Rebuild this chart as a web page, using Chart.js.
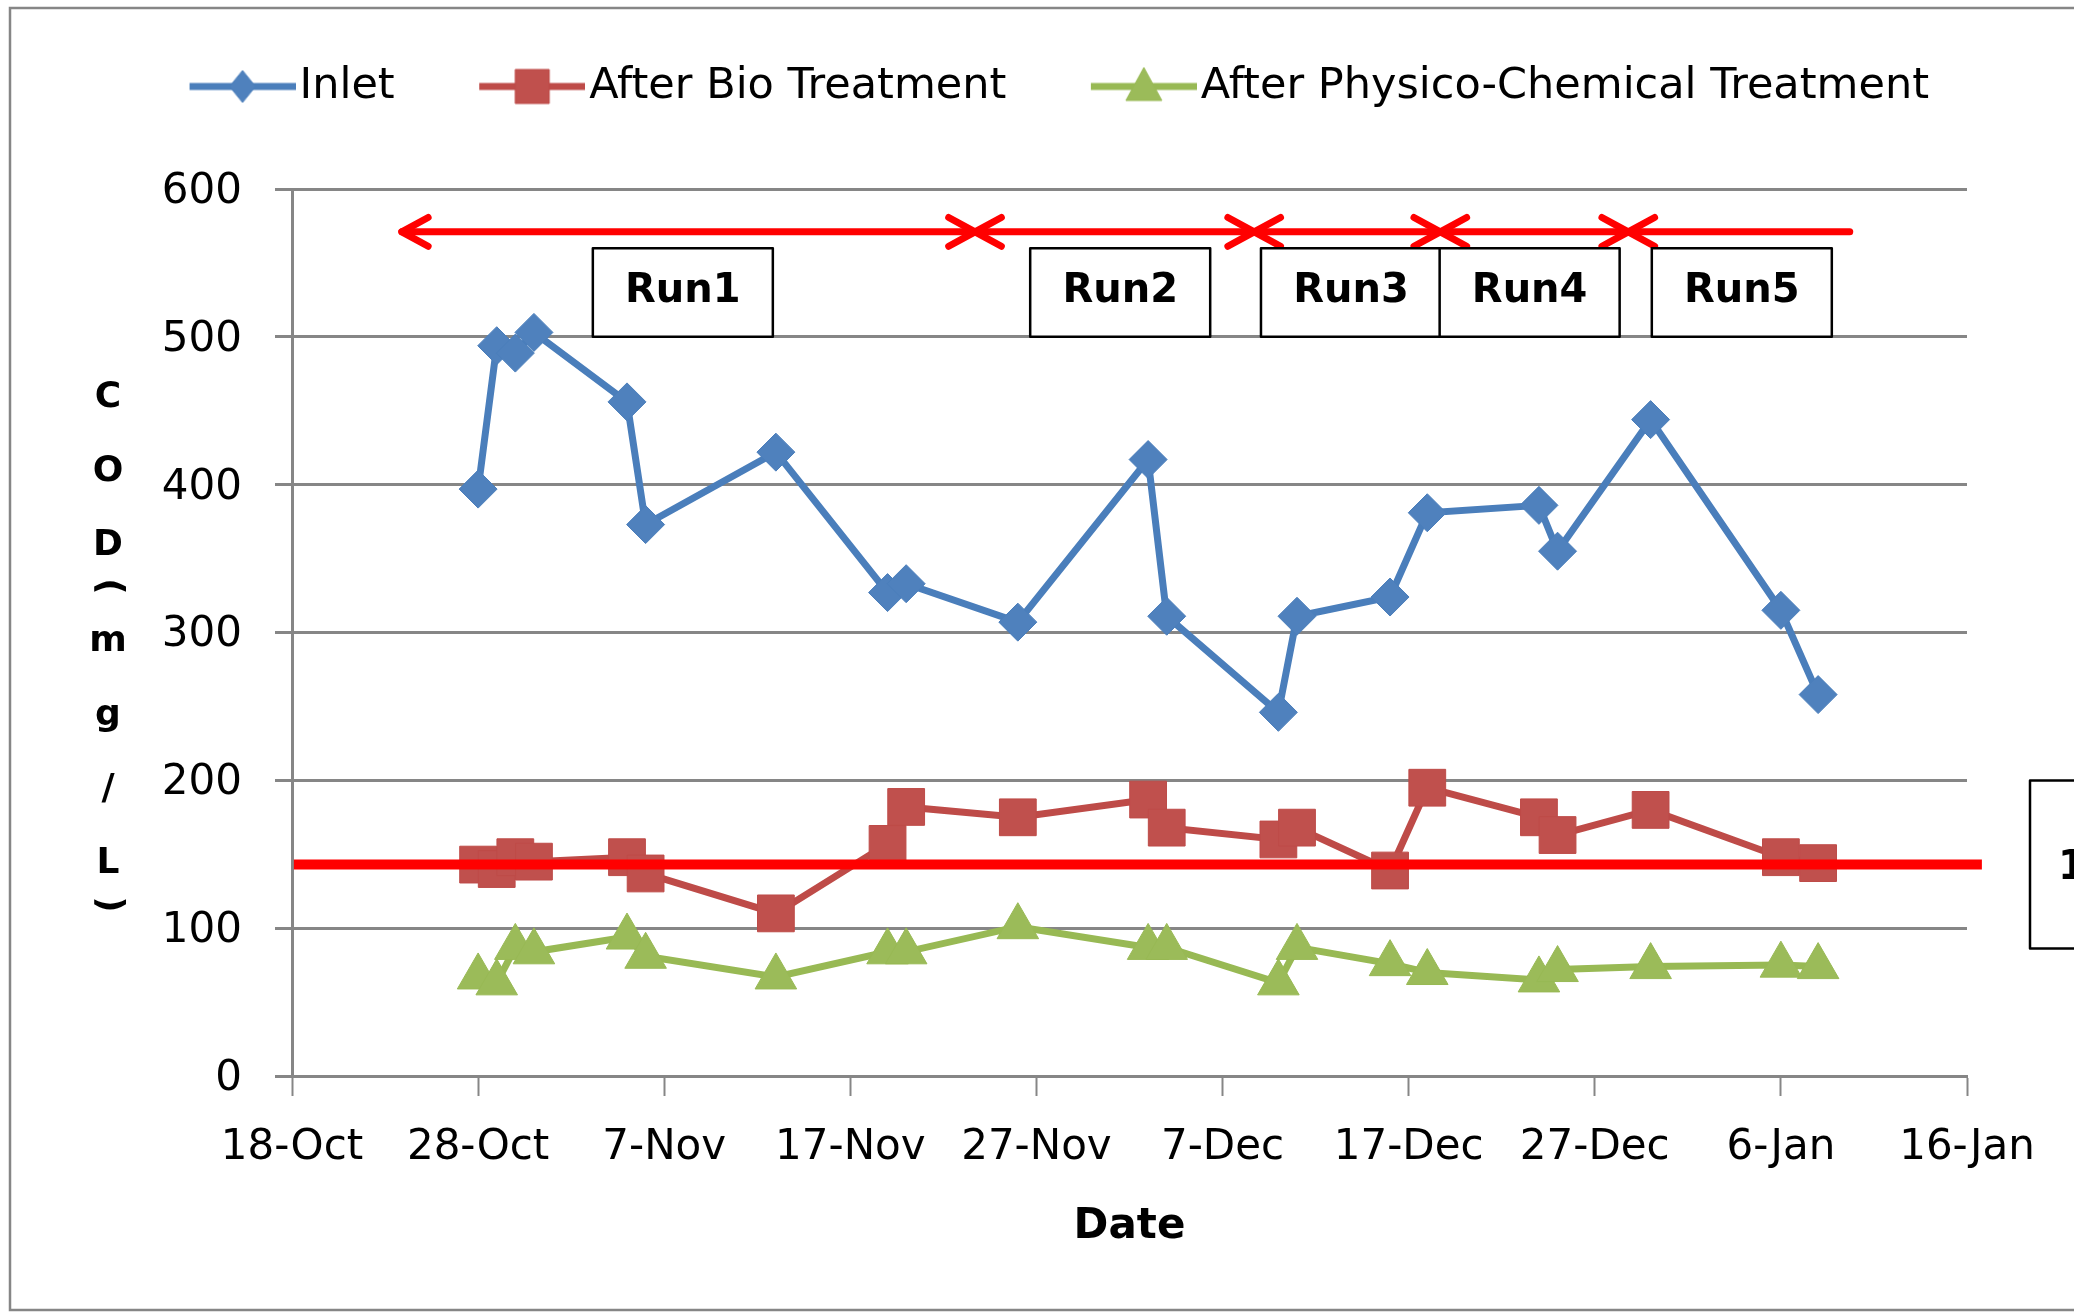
<!DOCTYPE html>
<html>
<head>
<meta charset="utf-8">
<script src="https://cdn.jsdelivr.net/npm/chart.js@4.4.1/dist/chart.umd.min.js"></script>
<style>
  html, body { margin: 0; padding: 0; background: #fff; }
  #wrap { position: relative; width: 2074px; height: 1314px; }
</style>
</head>
<body>
<div id="wrap"><canvas id="codChart"></canvas></div>
<script>
// sampling dates and COD values (mg/L)
const sampleDates = ['28-Oct', '29-Oct', '30-Oct', '31-Oct', '5-Nov', '6-Nov', '13-Nov', '19-Nov', '20-Nov', '26-Nov',
    '3-Dec', '4-Dec', '10-Dec', '11-Dec', '16-Dec', '18-Dec', '24-Dec', '25-Dec', '30-Dec', '6-Jan', '8-Jan'];
const inletCod = [397, 494, 489, 503, 456, 373, 422, 327, 333, 307, 417, 311, 246, 311, 324, 381, 386, 355, 444, 315, 258];
const bioCod = [143, 140, 148, 145, 148, 137, 110, 157, 182, 175, 187, 168, 160, 168, 139, 195, 175, 163, 180, 148, 144];
const physChemCod = [67, 63, 87, 84, 94, 81, 67, 84, 84, 101, 87, 87, 63, 87, 76, 70, 65, 72, 74, 75, 74];

const xTickLabels = ['18-Oct', '28-Oct', '7-Nov', '17-Nov', '27-Nov', '7-Dec', '17-Dec', '27-Dec', '6-Jan', '16-Jan'];
const yTicks = [0, 100, 200, 300, 400, 500, 600];

const limitCod = 143;
const limitLabel = '150';

// runs, in days after 18-Oct
const runNames = ['Run1', 'Run2', 'Run3', 'Run4', 'Run5'];
const runFrom = [5.9, 36.7, 51.7, 61.7, 71.8];
const runTo = [36.7, 51.7, 61.7, 71.8, 83.7];
const runLabelAt = [21.0, 44.5, 56.9, 66.5, 77.9];

const FONT = '"DejaVu Sans", Verdana, sans-serif';
const GRID = '#868686';
const BLUE = '#4A7EBB', BLUE_FILL = '#4F81BD';
const RED = '#BE4B48', RED_FILL = '#C0504D';
const GREEN = '#98B954', GREEN_FILL = '#9BBB59';

const monthStart = { Oct: 0, Nov: 31, Dec: 61, Jan: 92 };
const dayOf = (s) => {
    const [d, m] = s.split('-');
    return +d + monthStart[m] - 18;
};
const toPoints = (vals) => vals.map((v, i) => ({ x: dayOf(sampleDates[i]), y: v }));

// legend icons: line with marker in the middle
function legendIcon(color, fill, shape) {
    const c = document.createElement('canvas');
    c.width = 178; c.height = 44;
    const g = c.getContext('2d');
    const o = 72, cy = 22, cx = o + 53;
    g.strokeStyle = color; g.lineWidth = 7;
    g.beginPath(); g.moveTo(o, cy); g.lineTo(o + 106, cy); g.stroke();
    g.fillStyle = fill; g.strokeStyle = color; g.lineWidth = 1;
    g.beginPath();
    if (shape === 'diamond') {
        g.moveTo(cx, cy - 16); g.lineTo(cx + 13, cy); g.lineTo(cx, cy + 16); g.lineTo(cx - 13, cy);
    } else if (shape === 'square') {
        g.rect(cx - 17, cy - 17, 34, 34);
    } else {
        g.moveTo(cx, cy - 19); g.lineTo(cx + 18, cy + 14); g.lineTo(cx - 18, cy + 14);
    }
    g.closePath(); g.fill(); g.stroke();
    return c;
}
const legendIcons = [
    legendIcon(BLUE, BLUE_FILL, 'diamond'),
    legendIcon(RED, RED_FILL, 'square'),
    legendIcon(GREEN, GREEN_FILL, 'triangle')
];

function arrowHead(ctx, x, y, dir) {
    const len = 30, ang = 0.5;
    ctx.beginPath();
    ctx.moveTo(x - dir * len * Math.cos(ang), y - len * Math.sin(ang));
    ctx.lineTo(x, y);
    ctx.lineTo(x - dir * len * Math.cos(ang), y + len * Math.sin(ang));
    ctx.stroke();
}

const decorPlugin = {
    id: 'decor',
    beforeLayout(chart) {
        // keep the legend at the top and leave room down to the plot
        const lg = chart.legend;
        if (lg && !lg._tall) {
            const fit = lg.fit;
            lg.fit = function () {
                fit.call(this);
                this.height = 154;
            };
            lg._tall = true;
        }
    },
    beforeDraw(chart) {
        const ctx = chart.ctx;
        ctx.save();
        ctx.strokeStyle = GRID;
        ctx.lineWidth = 2.5;
        ctx.strokeRect(10, 8, 2200, 1302);
        ctx.restore();
    },
    afterDatasetsDraw(chart) {
        const { ctx, scales: { x, y } } = chart;
        ctx.save();
        // run arrows
        const ay = y.getPixelForValue(571);
        ctx.strokeStyle = '#FF0000';
        ctx.lineWidth = 7;
        ctx.lineCap = 'round';
        ctx.lineJoin = 'round';
        runNames.forEach((name, i) => {
            const x0 = x.getPixelForValue(runFrom[i]);
            const x1 = x.getPixelForValue(runTo[i]);
            ctx.beginPath(); ctx.moveTo(x0, ay); ctx.lineTo(x1, ay); ctx.stroke();
            arrowHead(ctx, x0, ay, -1);
            if (i < runNames.length - 1) arrowHead(ctx, x1, ay, 1);
        });
        // run boxes
        const top = y.getPixelForValue(560);
        const bottom = y.getPixelForValue(500);
        ctx.lineCap = 'butt';
        ctx.font = 'bold 40px ' + FONT;
        ctx.textAlign = 'center';
        ctx.textBaseline = 'alphabetic';
        runNames.forEach((name, i) => {
            const cx = x.getPixelForValue(runLabelAt[i]);
            ctx.fillStyle = '#fff';
            ctx.fillRect(cx - 90, top, 180, bottom - top);
            ctx.strokeStyle = '#000';
            ctx.lineWidth = 2.5;
            ctx.strokeRect(cx - 90, top, 180, bottom - top);
            ctx.fillStyle = '#000';
            ctx.fillText(name, cx, bottom - 35);
        });
        // limit label box, cut by the right edge
        const ly = y.getPixelForValue(limitCod);
        const bx = chart.chartArea.right + 63;
        ctx.fillStyle = '#fff';
        ctx.fillRect(bx, ly - 84, 200, 168);
        ctx.strokeStyle = '#000';
        ctx.lineWidth = 2.5;
        ctx.strokeRect(bx, ly - 84, 200, 168);
        ctx.fillStyle = '#000';
        ctx.textAlign = 'left';
        ctx.fillText(limitLabel, bx + 28, ly + 14);
        ctx.restore();
    },
    afterDraw(chart) {
        // stacked y axis title
        const { ctx, chartArea } = chart;
        const chars = ['C', 'O', 'D', '(', 'm', 'g', '/', 'L', ')'];
        const adv = chars.map(c => (c === '(' || c === ')') ? 22 : 74);
        const total = adv.reduce((a, b) => a + b, 0);
        let yy = (chartArea.top + chartArea.bottom) / 2 + 9 - total / 2;
        ctx.save();
        ctx.font = 'bold 36px ' + FONT;
        ctx.fillStyle = '#000';
        ctx.textAlign = 'center';
        ctx.textBaseline = 'middle';
        chars.forEach((c, i) => {
            const cy = yy + adv[i] / 2;
            if (c === '(' || c === ')') {
                ctx.save();
                ctx.translate(108, cy - 7);
                ctx.rotate(Math.PI / 2);
                ctx.fillText(c, 0, 0);
                ctx.restore();
            } else {
                ctx.fillText(c, 108, cy);
            }
            yy += adv[i];
        });
        ctx.restore();
    }
};

const ctx = document.getElementById('codChart').getContext('2d');
new Chart(ctx, {
    type: 'line',
    data: {
        datasets: [
            {
                label: 'Inlet',
                data: toPoints(inletCod),
                borderColor: BLUE,
                backgroundColor: BLUE_FILL,
                borderWidth: 7,
                pointStyle: 'rectRot',
                pointRadius: 19,
                pointBorderWidth: 1,
                pointBorderColor: BLUE,
                tension: 0
            },
            {
                label: 'After Bio Treatment',
                data: toPoints(bioCod),
                borderColor: RED,
                backgroundColor: RED_FILL,
                borderWidth: 7,
                pointStyle: 'rect',
                pointRadius: 26,
                pointBorderWidth: 1,
                pointBorderColor: RED,
                tension: 0
            },
            {
                label: 'After Physico-Chemical Treatment',
                data: toPoints(physChemCod),
                borderColor: GREEN,
                backgroundColor: GREEN_FILL,
                borderWidth: 7,
                pointStyle: 'triangle',
                pointRadius: 24,
                pointBorderWidth: 1,
                pointBorderColor: GREEN,
                tension: 0
            },
            {
                label: 'limit',
                data: [{ x: 0.1, y: limitCod }, { x: 90.8, y: limitCod }],
                borderColor: '#FF0000',
                borderWidth: 10,
                pointRadius: 0,
                clip: false,
                order: -1
            }
        ]
    },
    options: {
        animation: false,
        responsive: true,
        maintainAspectRatio: false,
        devicePixelRatio: 1,
        layout: { padding: { top: 35, left: 32, right: 42, bottom: 0 } },
        scales: {
            x: {
                type: 'linear',
                min: 0,
                max: 90,
                afterFit(scale) {
                    scale.height = 238;
                    scale.paddingRight = 107;
                    scale.paddingLeft = 0;
                },
                ticks: {
                    stepSize: 10,
                    autoSkip: false,
                    maxRotation: 0,
                    padding: 27,
                    color: '#000',
                    font: { family: FONT, size: 42 },
                    callback: (v) => xTickLabels[Math.round(v / 10)]
                },
                grid: {
                    drawOnChartArea: false,
                    drawTicks: true,
                    tickLength: 20,
                    tickWidth: 2,
                    tickColor: GRID
                },
                border: { display: true, color: GRID, width: 3 },
                title: {
                    display: true,
                    text: 'Date',
                    color: '#000',
                    font: { family: FONT, size: 42, weight: 'bold' },
                    padding: { top: 0, bottom: 62 }
                }
            },
            y: {
                min: 0,
                max: 600,
                afterFit(scale) {
                    scale.width = 260;
                },
                afterBuildTicks(scale) {
                    scale.ticks = yTicks.map(v => ({ value: v }));
                },
                ticks: {
                    padding: 33,
                    labelOffset: 3,
                    color: '#000',
                    font: { family: FONT, size: 42 }
                },
                grid: {
                    color: GRID,
                    lineWidth: 3,
                    drawTicks: true,
                    tickLength: 17
                },
                border: { display: true, color: GRID, width: 3 }
            }
        },
        plugins: {
            tooltip: { enabled: false },
            legend: {
                display: true,
                position: 'top',
                labels: {
                    usePointStyle: true,
                    pointStyleWidth: 143,
                    padding: 30,
                    color: '#000',
                    font: { family: FONT, size: 43 },
                    filter: (item) => item.datasetIndex < 3,
                    generateLabels(chart) {
                        const items = Chart.defaults.plugins.legend.labels.generateLabels(chart);
                        return items.map(it => Object.assign(it, {
                            pointStyle: legendIcons[it.datasetIndex] || it.pointStyle
                        }));
                    }
                }
            }
        }
    },
    plugins: [decorPlugin]
});
</script>
</body>
</html>
